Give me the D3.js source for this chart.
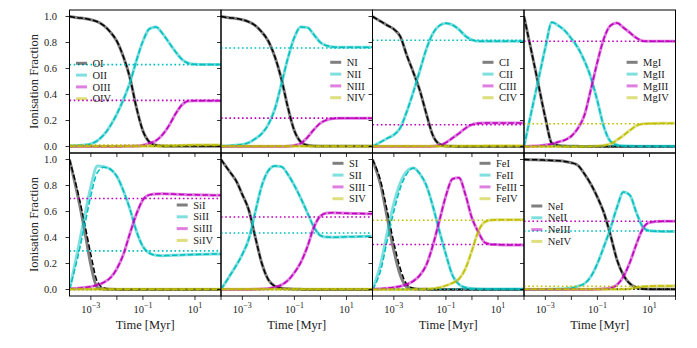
<!DOCTYPE html>
<html lang="en">
<head>
    <meta charset="UTF-8">
    <title>Ionisation fractions</title>
    <style>
        body { margin: 0; background: #fff; }
        .tick-label { font-size: 10.5px; fill: #222; }
        .axis-label { font-size: 12.5px; fill: #222; }
        .legend-text { font-size: 10.5px; fill: #222; }
    </style>
</head>
<body>
    <svg id="chart" width="697" height="348"></svg>
    <script src="https://d3js.org/d3.v7.min.js"></script>
    <script>
        // log10(time / Myr) sample points shared by every curve
        const logT = [-3.82, -3.5, -3.25, -3.0, -2.75, -2.5, -2.25, -2.0, -1.75, -1.5, -1.25, -1.0, -0.75, -0.5, -0.25, 0.0, 0.25, 0.5, 0.75, 1.0, 1.5, 2.0];

        // Oxygen
        const O_I   = [1.0, 0.99, 0.985, 0.975, 0.96, 0.93, 0.88, 0.81, 0.69, 0.53, 0.30, 0.12, 0.035, 0.01, 0.004, 0.002, 0.001, 0.001, 0.001, 0.001, 0.001, 0.001];
        const O_II  = [0.005, 0.008, 0.012, 0.02, 0.045, 0.09, 0.16, 0.25, 0.36, 0.49, 0.66, 0.81, 0.905, 0.92, 0.87, 0.80, 0.73, 0.67, 0.64, 0.632, 0.63, 0.63];
        const O_III = [0, 0, 0, 0, 0, 0, 0, 0, 0.001, 0.002, 0.004, 0.01, 0.025, 0.045, 0.09, 0.16, 0.25, 0.32, 0.35, 0.352, 0.352, 0.352];
        const O_IV  = [0.002, 0.002, 0.002, 0.002, 0.002, 0.002, 0.002, 0.002, 0.002, 0.002, 0.002, 0.002, 0.002, 0.002, 0.003, 0.004, 0.006, 0.008, 0.01, 0.011, 0.011, 0.011];
        const eqO   = [0.002, 0.63, 0.355, 0.012];

        // Nitrogen
        const N_I   = [1.0, 0.99, 0.985, 0.975, 0.958, 0.93, 0.88, 0.81, 0.69, 0.52, 0.30, 0.12, 0.035, 0.01, 0.004, 0.002, 0.001, 0.001, 0.001, 0.001, 0.001, 0.001];
        const N_II  = [0.003, 0.006, 0.01, 0.015, 0.03, 0.06, 0.1, 0.17, 0.29, 0.48, 0.68, 0.84, 0.92, 0.915, 0.86, 0.80, 0.775, 0.765, 0.763, 0.763, 0.763, 0.763];
        const N_III = [0, 0, 0, 0, 0, 0, 0, 0, 0, 0, 0.002, 0.008, 0.025, 0.07, 0.13, 0.18, 0.205, 0.215, 0.218, 0.218, 0.218, 0.218];
        const N_IV  = [0.002, 0.002, 0.002, 0.002, 0.002, 0.002, 0.002, 0.002, 0.002, 0.002, 0.002, 0.002, 0.002, 0.002, 0.002, 0.002, 0.002, 0.002, 0.002, 0.002, 0.002, 0.002];
        const eqN   = [0.003, 0.758, 0.218, 0.004];

        // Carbon
        const C_I   = [1.0, 0.962, 0.932, 0.902, 0.845, 0.70, 0.57, 0.43, 0.25, 0.085, 0.018, 0.004, 0.001, 0, 0, 0, 0, 0, 0, 0, 0, 0];
        const C_II  = [0.0, 0.035, 0.063, 0.09, 0.145, 0.27, 0.42, 0.585, 0.75, 0.87, 0.93, 0.948, 0.935, 0.90, 0.85, 0.82, 0.81, 0.81, 0.81, 0.81, 0.81, 0.81];
        const C_III = [0, 0, 0, 0, 0, 0, 0, 0, 0, 0.002, 0.008, 0.03, 0.065, 0.10, 0.14, 0.168, 0.178, 0.18, 0.18, 0.18, 0.18, 0.18];
        const C_IV  = [0.002, 0.002, 0.002, 0.002, 0.002, 0.002, 0.002, 0.002, 0.002, 0.002, 0.002, 0.002, 0.002, 0.003, 0.003, 0.004, 0.004, 0.005, 0.005, 0.005, 0.005, 0.005];
        const eqC   = [0.002, 0.817, 0.167, 0.005];

        // Magnesium
        const Mg_I   = [1.0, 0.70, 0.46, 0.22, 0.025, 0.008, 0.004, 0.002, 0.001, 0, 0, 0, 0, 0, 0, 0, 0, 0, 0, 0, 0, 0];
        const Mg_II  = [0.0, 0.30, 0.53, 0.76, 0.955, 0.93, 0.89, 0.83, 0.76, 0.66, 0.53, 0.35, 0.15, 0.04, 0.012, 0.005, 0.003, 0.002, 0.002, 0.002, 0.002, 0.002];
        const Mg_III = [0.0, 0.003, 0.006, 0.012, 0.02, 0.035, 0.05, 0.08, 0.14, 0.24, 0.44, 0.65, 0.83, 0.93, 0.95, 0.915, 0.875, 0.835, 0.812, 0.81, 0.81, 0.81];
        const Mg_IV  = [0, 0, 0, 0, 0, 0, 0, 0, 0, 0, 0.001, 0.003, 0.008, 0.02, 0.05, 0.085, 0.125, 0.16, 0.174, 0.177, 0.178, 0.178];
        const eqMg   = [0.001, 0.004, 0.81, 0.175];

        // Silicon (the *_alt series are the dashed model where it departs)
        const Si_I      = [1.0, 0.72, 0.47, 0.19, 0.015, 0.004, 0.001, 0, 0, 0, 0, 0, 0, 0, 0, 0, 0, 0, 0, 0, 0, 0];
        const Si_I_alt  = [1.0, 0.75, 0.52, 0.27, 0.06, 0.012, 0.004, 0.001, 0, 0, 0, 0, 0, 0, 0, 0, 0, 0, 0, 0, 0, 0];
        const Si_II     = [0.0, 0.30, 0.55, 0.79, 0.95, 0.945, 0.925, 0.87, 0.76, 0.62, 0.45, 0.33, 0.28, 0.263, 0.26, 0.262, 0.264, 0.266, 0.268, 0.27, 0.272, 0.273];
        const Si_II_alt = [0.0, 0.25, 0.48, 0.72, 0.90, 0.94, 0.925, 0.87, 0.76, 0.62, 0.45, 0.33, 0.28, 0.263, 0.26, 0.262, 0.264, 0.266, 0.268, 0.27, 0.272, 0.273];
        const Si_III    = [0.005, 0.01, 0.015, 0.022, 0.035, 0.055, 0.09, 0.16, 0.27, 0.43, 0.58, 0.69, 0.728, 0.735, 0.736, 0.735, 0.733, 0.731, 0.729, 0.728, 0.726, 0.725];
        const Si_IV     = [0.002, 0.002, 0.002, 0.002, 0.002, 0.002, 0.002, 0.002, 0.002, 0.002, 0.002, 0.002, 0.002, 0.002, 0.002, 0.002, 0.002, 0.002, 0.002, 0.002, 0.002, 0.002];
        const eqSi      = [0.001, 0.297, 0.70, 0.004];

        // Sulphur
        const S_I   = [1.0, 0.91, 0.84, 0.73, 0.61, 0.40, 0.2, 0.075, 0.025, 0.01, 0.005, 0.002, 0.001, 0, 0, 0, 0, 0, 0, 0, 0, 0];
        const S_II  = [0.0, 0.10, 0.18, 0.27, 0.39, 0.60, 0.80, 0.915, 0.95, 0.945, 0.885, 0.80, 0.70, 0.59, 0.48, 0.415, 0.403, 0.402, 0.403, 0.405, 0.407, 0.41];
        const S_III = [0, 0, 0, 0, 0, 0.001, 0.003, 0.008, 0.018, 0.035, 0.07, 0.13, 0.21, 0.33, 0.48, 0.565, 0.588, 0.59, 0.588, 0.586, 0.584, 0.582];
        const S_IV  = [0.002, 0.002, 0.002, 0.002, 0.002, 0.002, 0.002, 0.002, 0.002, 0.002, 0.002, 0.002, 0.002, 0.002, 0.002, 0.002, 0.002, 0.002, 0.002, 0.002, 0.002, 0.002];
        const eqS   = [0.001, 0.435, 0.558, 0.005];

        // Iron
        const Fe_I      = [1.0, 0.80, 0.55, 0.30, 0.11, 0.02, 0.005, 0.002, 0.001, 0, 0, 0, 0, 0, 0, 0, 0, 0, 0, 0, 0, 0];
        const Fe_I_alt  = [1.0, 0.83, 0.60, 0.36, 0.16, 0.04, 0.01, 0.003, 0.001, 0, 0, 0, 0, 0, 0, 0, 0, 0, 0, 0, 0, 0];
        const Fe_II     = [0.0, 0.20, 0.44, 0.66, 0.82, 0.91, 0.935, 0.89, 0.80, 0.64, 0.45, 0.27, 0.11, 0.04, 0.015, 0.007, 0.005, 0.004, 0.004, 0.004, 0.004, 0.004];
        const Fe_II_alt = [0.0, 0.15, 0.38, 0.60, 0.78, 0.89, 0.935, 0.89, 0.80, 0.64, 0.45, 0.27, 0.11, 0.04, 0.015, 0.007, 0.005, 0.004, 0.004, 0.004, 0.004, 0.004];
        const Fe_III    = [0.003, 0.006, 0.01, 0.016, 0.025, 0.04, 0.065, 0.11, 0.19, 0.34, 0.53, 0.72, 0.85, 0.86, 0.73, 0.55, 0.44, 0.36, 0.347, 0.345, 0.343, 0.343];
        const Fe_IV     = [0, 0, 0, 0, 0, 0, 0.001, 0.002, 0.004, 0.008, 0.015, 0.03, 0.05, 0.08, 0.16, 0.30, 0.45, 0.52, 0.535, 0.536, 0.536, 0.536];
        const eqFe      = [0.001, 0.003, 0.346, 0.533];

        // Neon
        const Ne_I   = [1.0, 0.998, 0.997, 0.995, 0.993, 0.99, 0.985, 0.975, 0.955, 0.89, 0.81, 0.71, 0.59, 0.42, 0.23, 0.11, 0.045, 0.015, 0.005, 0.002, 0.001, 0.001];
        const Ne_II  = [0, 0, 0, 0, 0.001, 0.003, 0.006, 0.012, 0.025, 0.045, 0.1, 0.2, 0.33, 0.47, 0.63, 0.75, 0.725, 0.59, 0.48, 0.452, 0.447, 0.447];
        const Ne_III = [0, 0, 0, 0, 0, 0, 0, 0, 0, 0, 0, 0.002, 0.005, 0.012, 0.035, 0.10, 0.21, 0.35, 0.47, 0.515, 0.525, 0.525];
        const Ne_IV  = [0.002, 0.002, 0.002, 0.002, 0.002, 0.002, 0.002, 0.002, 0.002, 0.002, 0.002, 0.002, 0.002, 0.002, 0.002, 0.002, 0.006, 0.015, 0.022, 0.025, 0.027, 0.028];
        const eqNe   = [0.003, 0.45, 0.525, 0.025];

        const yTicks = [0, 0.2, 0.4, 0.6, 0.8, 1.0];
        const xTicks = [1e-3, 1e-2, 1e-1, 1, 10, 100];
        const xTickLabels = {"0.001": "-3", "0.1": "-1", "10": "1"};

        const colors = ["#000000", "#00bfbf", "#bf00bf", "#bfbf00"];
        const serif = '"Liberation Serif", "Times New Roman", serif';

        // panel layout: legend offset is relative to the panel's top-left corner
        const panels = [
            {names: ["OI", "OII", "OIII", "OIV"], solid: [O_I, O_II, O_III, O_IV], dashed: [O_I, O_II, O_III, O_IV], eq: eqO, legend: [6.5, 53.3]},
            {names: ["NI", "NII", "NIII", "NIV"], solid: [N_I, N_II, N_III, N_IV], dashed: [N_I, N_II, N_III, N_IV], eq: eqN, legend: [109.2, 52.3]},
            {names: ["CI", "CII", "CIII", "CIV"], solid: [C_I, C_II, C_III, C_IV], dashed: [C_I, C_II, C_III, C_IV], eq: eqC, legend: [110, 52.3]},
            {names: ["MgI", "MgII", "MgIII", "MgIV"], solid: [Mg_I, Mg_II, Mg_III, Mg_IV], dashed: [Mg_I, Mg_II, Mg_III, Mg_IV], eq: eqMg, legend: [102.6, 52.3]},
            {names: ["SiI", "SiII", "SiIII", "SiIV"], solid: [Si_I, Si_II, Si_III, Si_IV], dashed: [Si_I_alt, Si_II_alt, Si_III, Si_IV], eq: eqSi, legend: [107.2, 52]},
            {names: ["SI", "SII", "SIII", "SIV"], solid: [S_I, S_II, S_III, S_IV], dashed: [S_I, S_II, S_III, S_IV], eq: eqS, legend: [111.5, 10.3]},
            {names: ["FeI", "FeII", "FeIII", "FeIV"], solid: [Fe_I, Fe_II, Fe_III, Fe_IV], dashed: [Fe_I_alt, Fe_II_alt, Fe_III, Fe_IV], eq: eqFe, legend: [107, 10.3]},
            {names: ["NeI", "NeII", "NeIII", "NeIV"], solid: [Ne_I, Ne_II, Ne_III, Ne_IV], dashed: [Ne_I, Ne_II, Ne_III, Ne_IV], eq: eqNe, legend: [7.3, 53]}
        ];

        const marginLeft = 69.5, marginTop = 10, pw = 151.5, ph = 143;

        const svg = d3.select("#chart").style("font-family", serif);
        svg.append("rect").attr("width", 697).attr("height", 348).attr("fill", "#fff");

        const x = d3.scaleLog().domain([Math.pow(10, -3.82), 100]).range([0, pw]);
        const y = d3.scaleLinear().domain([-0.05, 1.05]).range([ph, 0]);

        const line = d3.line()
            .x(d => x(Math.pow(10, d[0])))
            .y(d => y(d[1]))
            .curve(d3.curveMonotoneX);

        panels.forEach((p, i) => {
            const col = i % 4, row = Math.floor(i / 4);
            const g = svg.append("g")
                .attr("transform", `translate(${marginLeft + col * pw},${marginTop + row * ph})`);

            g.append("clipPath").attr("id", "clip" + i)
                .append("rect").attr("width", pw).attr("height", ph);

            const plot = g.append("g").attr("clip-path", `url(#clip${i})`);

            p.names.forEach((name, k) => {
                plot.append("path")
                    .attr("d", line(logT.map((t, j) => [t, p.solid[k][j]])))
                    .attr("fill", "none")
                    .attr("stroke", colors[k])
                    .attr("stroke-opacity", 0.5)
                    .attr("stroke-width", 3);
                plot.append("path")
                    .attr("d", line(logT.map((t, j) => [t, p.dashed[k][j]])))
                    .attr("fill", "none")
                    .attr("stroke", colors[k])
                    .attr("stroke-width", 1.5)
                    .attr("stroke-dasharray", "5.5,2.4");
                plot.append("line")
                    .attr("x1", 0).attr("x2", pw)
                    .attr("y1", y(p.eq[k])).attr("y2", y(p.eq[k]))
                    .attr("stroke", colors[k])
                    .attr("stroke-width", 1.6)
                    .attr("stroke-dasharray", "1.6,2.6");
            });

            // legend (no frame)
            const lg = g.append("g").attr("transform", `translate(${p.legend[0]},${p.legend[1]})`);
            p.names.forEach((name, k) => {
                lg.append("line")
                    .attr("x1", 0).attr("x2", 11)
                    .attr("y1", k * 11.8).attr("y2", k * 11.8)
                    .attr("stroke", colors[k])
                    .attr("stroke-opacity", 0.5)
                    .attr("stroke-width", 3);
                lg.append("text")
                    .attr("class", "legend-text")
                    .style("font-family", serif)
                    .attr("x", 16.5)
                    .attr("y", k * 11.8)
                    .attr("dy", "0.35em")
                    .text(name);
            });

            // frame
            g.append("rect")
                .attr("width", pw).attr("height", ph)
                .attr("fill", "none")
                .attr("stroke", "#000")
                .attr("stroke-width", 1);

            // ticks (outward, left and bottom)
            yTicks.forEach(v => {
                g.append("line")
                    .attr("x1", -4).attr("x2", 0)
                    .attr("y1", y(v)).attr("y2", y(v))
                    .attr("stroke", "#000").attr("stroke-width", 0.8);
                if (col === 0) {
                    g.append("text")
                        .attr("class", "tick-label")
                        .style("font-family", serif)
                        .attr("x", -12.5)
                        .attr("y", y(v))
                        .attr("dy", "0.35em")
                        .attr("text-anchor", "end")
                        .text(v.toFixed(1));
                }
            });
            xTicks.forEach(v => {
                g.append("line")
                    .attr("x1", x(v)).attr("x2", x(v))
                    .attr("y1", ph).attr("y2", ph + 4)
                    .attr("stroke", "#000").attr("stroke-width", 0.8);
                const exp = xTickLabels[String(v)];
                if (row === 1 && exp !== undefined) {
                    const t = g.append("text")
                        .attr("class", "tick-label")
                        .style("font-family", serif)
                        .attr("x", x(v))
                        .attr("y", ph + 17)
                        .attr("text-anchor", "middle");
                    t.append("tspan").text("10");
                    t.append("tspan")
                        .attr("dy", -5)
                        .attr("font-size", "8px")
                        .text(exp.replace("-", "\u2212"));
                }
            });

            if (row === 1) {
                g.append("text")
                    .attr("class", "axis-label")
                    .style("font-family", serif)
                    .attr("x", pw / 2)
                    .attr("y", ph + 33)
                    .attr("text-anchor", "middle")
                    .text("Time [Myr]");
            }
            if (col === 0) {
                g.append("text")
                    .attr("class", "axis-label")
                    .style("font-family", serif)
                    .attr("transform", `translate(${37.5 - marginLeft},${ph / 2}) rotate(-90)`)
                    .attr("text-anchor", "middle")
                    .text("Ionisation Fraction");
            }
        });
    </script>
</body>
</html>
